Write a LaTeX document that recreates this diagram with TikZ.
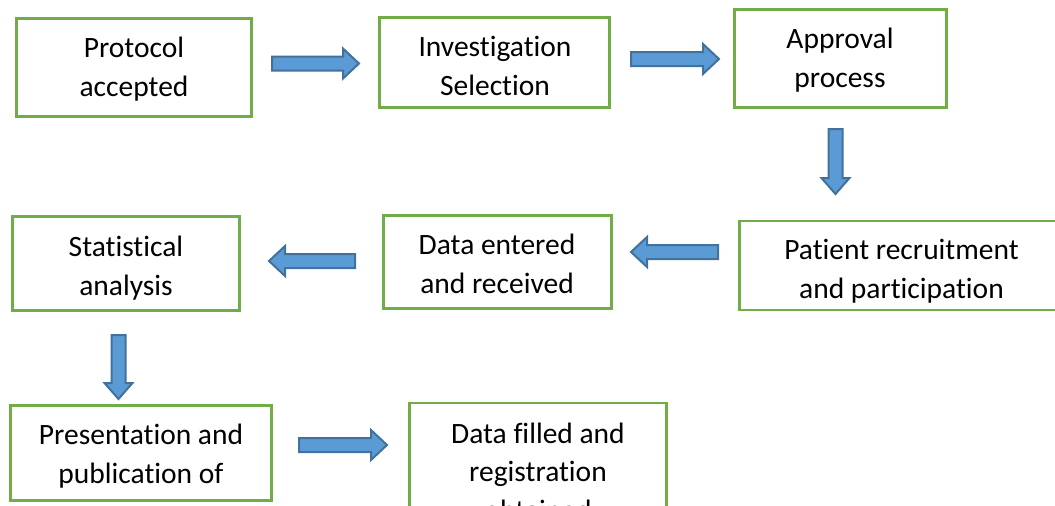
\documentclass[tikz,border=0pt]{standalone}
\usepackage{fontspec}
\setmainfont{Carlito}[Ligatures=NoCommon]
\definecolor{boxgreen}{HTML}{70AD47}
\definecolor{arrfill}{HTML}{5B9BD5}
\definecolor{arrdraw}{HTML}{41719C}
\tikzset{
  stepbox/.style={draw=boxgreen, line width=2.2pt, fill=none, inner sep=0pt},
  txt/.style={font=\fontsize{29.5}{38.5}\selectfont, align=center, inner sep=0pt, anchor=base},
  blockarrow/.style={draw=arrdraw, fill=arrfill, line width=2pt, line join=miter}
}
% right arrow: x1 (tail), x2 (tip), yc
\newcommand\blkR[3]{\draw[blockarrow] (#1+1,#3-7) -- (#2-17,#3-7) -- (#2-17,#3-15) -- (#2-1,#3) -- (#2-17,#3+15) -- (#2-17,#3+7) -- (#1+1,#3+7) -- cycle;}
% left arrow: x1 (tip), x2 (tail), yc
\newcommand\blkL[3]{\draw[blockarrow] (#2-1,#3-7) -- (#1+17,#3-7) -- (#1+17,#3-15) -- (#1+1,#3) -- (#1+17,#3+15) -- (#1+17,#3+7) -- (#2-1,#3+7) -- cycle;}
% down arrow: y1 (tail), y2 (tip), xc
\newcommand\blkD[3]{\draw[blockarrow] (#3-7,#1+1) -- (#3-7,#2-17) -- (#3-14,#2-17) -- (#3,#2-1) -- (#3+14,#2-17) -- (#3+7,#2-17) -- (#3+7,#1+1) -- cycle;}
\begin{document}
\begin{tikzpicture}[x=1pt,y=-1pt]
\useasboundingbox (0,0) rectangle (1055,506);
\clip (0,0) rectangle (1055,506);
% boxes
\node[stepbox, minimum width=235pt, minimum height=98pt] (b1) at (134,67.5) {};
\node[stepbox, minimum width=230pt, minimum height=90pt] (b2) at (494.5,62.5) {};
\node[stepbox, minimum width=212pt, minimum height=98pt] (b3) at (840.5,58.5) {};
\node[stepbox, minimum width=325pt, minimum height=89pt] (b4) at (902,265.5) {};
\node[stepbox, minimum width=228pt, minimum height=93pt] (b5) at (497.5,262) {};
\node[stepbox, minimum width=227pt, minimum height=94pt] (b6) at (126,263.5) {};
\node[stepbox, minimum width=261pt, minimum height=95pt] (b7) at (141,453) {};
\node[stepbox, minimum width=257pt, minimum height=130pt] (b8) at (538,468) {};
% texts (anchor = baseline of last line)
\node[txt] (t1) at (134,96) {Protocol\\accepted};
\node[txt] (t2) at (495,95) {Investigation\\Selection};
\node[txt] (t3) at (840,87) {Approval\\process};
\node[txt] (t4) at (901.5,298) {Patient recruitment\\and participation};
\node[txt] (t5) at (497,293) {Data entered\\and received};
\node[txt] (t6) at (126,295) {Statistical\\analysis};
\node[txt] (t7) at (141,483) {Presentation and\\publication of};
\node[txt] (t8) at (538,520) {Data filled and\\registration\\obtained};
% arrows
\blkR{271}{360}{63.5}
\blkR{630}{720}{59}
\blkD{128}{195}{835.5}
\blkL{630}{719}{252}
\blkL{268}{356}{261}
\blkD{334}{400}{118.5}
\blkR{298}{388}{445}
\end{tikzpicture}
\end{document}
